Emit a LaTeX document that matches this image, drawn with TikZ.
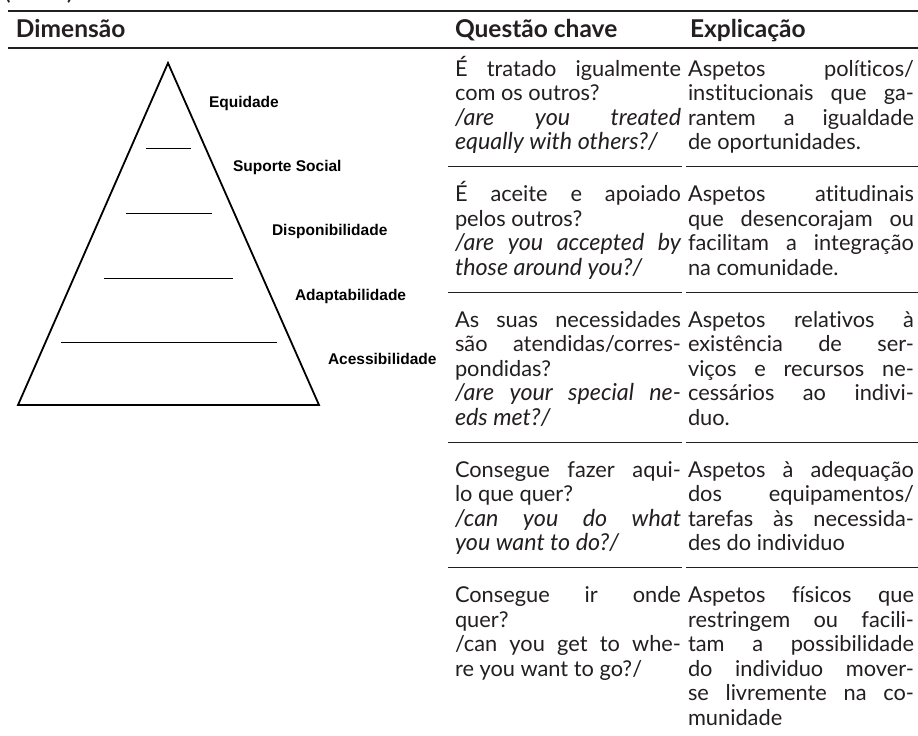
\documentclass[tikz,border=0pt]{standalone}
\usepackage{fontspec}
\setmainfont{Lato}[Ligatures={NoCommon}]
\newfontfamily\pyrfont{Liberation Sans}
\definecolor{ink}{RGB}{35,31,32}
\newlength\colw
\setlength\colw{226pt}
\newcommand\jline[1]{\makebox[\colw][s]{#1}}
\begin{document}
\begin{tikzpicture}[x=1pt,y=-1pt,
  txt/.style={anchor=base west,inner sep=0pt,outer sep=0pt,text=ink,font=\fontsize{21.8}{24}\selectfont},
  itx/.style={txt,font=\fontsize{23.3}{24}\selectfont\itshape},
  hdr/.style={anchor=base west,inner sep=0pt,outer sep=0pt,text=ink,font=\fontsize{24.5}{28}\selectfont\bfseries},
  plab/.style={anchor=base west,inner sep=0pt,outer sep=0pt,text=black,font=\pyrfont\fontsize{15.5}{18}\selectfont\bfseries},
  mainrule/.style={draw=ink,line width=1.6pt},
  rowrule/.style={draw=ink,line width=1pt},
  pyr/.style={draw=black,line width=1.8pt,line join=miter},
  pline/.style={draw=black,line width=1pt}]
\useasboundingbox (0,0) rectangle (918,736);
\fill[white] (0,0) rectangle (918,736);

% cut-off caption fragment
\node[txt,font=\fontsize{26}{30}\selectfont] (cap) at (4,-1) {(cont.)};

% header rules
\draw[mainrule] (8,11) -- (918,11);
\draw[mainrule] (8,48) -- (918,48);
\node[hdr] (h1) at (16,37) {Dimensão};
\node[hdr] (h2) at (455,37) {Questão chave};
\node[hdr] (h3) at (690,37) {Explicação};

% row separators
\foreach \y in {166,292,442,567.5}{
  \draw[rowrule] (448,\y) -- (682,\y);
  \draw[rowrule] (686,\y) -- (918,\y);
}

% pyramid
\coordinate (apex) at (168,63);
\coordinate (bl) at (18,405);
\coordinate (br) at (319,405);
\draw[pyr] (apex) -- (br) -- (bl) -- cycle;
\draw[pline] (146,148) -- (191,148);
\draw[pline] (126,213) -- (212,213);
\draw[pline] (104,278) -- (233,278);
\draw[pline] (61,342) -- (277,342);
\node[plab] (p1) at (209,107) {Equidade};
\node[plab] (p2) at (233,171) {Suporte Social};
\node[plab] (p3) at (272,235) {Disponibilidade};
\node[plab] (p4) at (295,300) {Adaptabilidade};
\node[plab] (p5) at (328,364) {Acessibilidade};

% ---- column 2: Questao chave ----
\node[txt] (q11) at (455,76) {\jline{É tratado igualmente}};
\node[txt] (q12) at (455,100.5) {com os outros?};
\node[itx] (q13) at (455,125) {\jline{/are you treated}};
\node[itx] (q14) at (455,149.5) {equally with others?/};

\node[txt] (q21) at (455,201.5) {\jline{É aceite e apoiado}};
\node[txt] (q22) at (455,226) {pelos outros?};
\node[itx] (q23) at (455,250.5) {\jline{/are you accepted by}};
\node[itx] (q24) at (455,275) {those around you?/};

\node[txt] (q31) at (455,327) {\jline{As suas necessidades}};
\node[txt] (q32) at (455,351.5) {\jline{são atendidas/corres-}};
\node[txt] (q33) at (455,376) {pondidas?};
\node[itx] (q34) at (455,400.5) {\jline{/are your special ne-}};
\node[itx] (q35) at (455,425) {eds met?/};

\node[txt] (q41) at (455,477) {\jline{Consegue fazer aqui-}};
\node[txt] (q42) at (455,501.5) {lo que quer?};
\node[itx] (q43) at (455,526) {\jline{/can you do what}};
\node[itx] (q44) at (455,550.5) {you want to do?/};

\node[txt] (q51) at (455,602.5) {\jline{Consegue ir onde}};
\node[txt] (q52) at (455,627) {quer?};
\node[txt] (q53) at (455,651.5) {\jline{/can you get to whe-}};
\node[txt] (q54) at (455,676) {re you want to go?/};

% ---- column 3: Explicacao ----
\node[txt] (e11) at (688,76) {\jline{Aspetos políticos/}};
\node[txt] (e12) at (688,100.5) {\jline{institucionais que ga-}};
\node[txt] (e13) at (688,125) {\jline{rantem a igualdade}};
\node[txt] (e14) at (688,149.5) {de oportunidades.};

\node[txt] (e21) at (688,201.5) {\jline{Aspetos atitudinais}};
\node[txt] (e22) at (688,226) {\jline{que desencorajam ou}};
\node[txt] (e23) at (688,250.5) {\jline{facilitam a integração}};
\node[txt] (e24) at (688,275) {na comunidade.};

\node[txt] (e31) at (688,327) {\jline{Aspetos relativos à}};
\node[txt] (e32) at (688,351.5) {\jline{existência de ser-}};
\node[txt] (e33) at (688,376) {\jline{viços e recursos ne-}};
\node[txt] (e34) at (688,400.5) {\jline{cessários ao indivi-}};
\node[txt] (e35) at (688,425) {duo.};

\node[txt] (e41) at (688,477) {\jline{Aspetos à adequação}};
\node[txt] (e42) at (688,501.5) {\jline{dos equipamentos/}};
\node[txt] (e43) at (688,526) {\jline{tarefas às necessida-}};
\node[txt] (e44) at (688,550.5) {des do individuo};

\node[txt] (e51) at (688,602.5) {\jline{Aspetos físicos que}};
\node[txt] (e52) at (688,627) {\jline{restringem ou facili-}};
\node[txt] (e53) at (688,651.5) {\jline{tam a possibilidade}};
\node[txt] (e54) at (688,676) {\jline{do individuo mover-}};
\node[txt] (e55) at (688,700.5) {\jline{se livremente na co-}};
\node[txt] (e56) at (688,725) {munidade};
\end{tikzpicture}
\end{document}
